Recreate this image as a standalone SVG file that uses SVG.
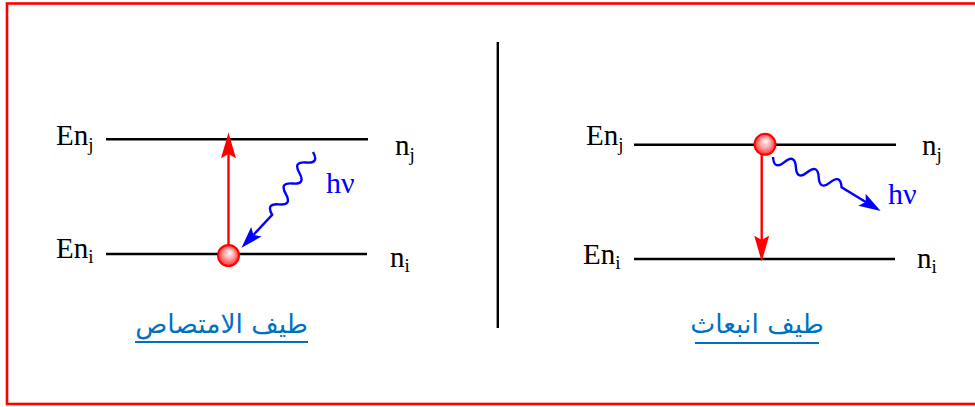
<svg xmlns="http://www.w3.org/2000/svg" width="975" height="407" viewBox="0 0 975 407">
<style>
.lvl{stroke:#000;stroke-width:2.6;fill:none}
.lab{font-family:"Liberation Serif","Times New Roman",serif;font-size:29px;fill:#000}
.sub{font-size:19px}
.hv{font-family:"Liberation Serif","Times New Roman",serif;font-size:30px;fill:#0000ff}
.ar{font-family:"DejaVu Sans",sans-serif;font-size:26.5px;fill:#0070c0}
.ul{stroke:#0070c0;stroke-width:2}
.red{stroke:#ff0000;stroke-width:2.4;fill:none}
.wave{stroke:#0000ff;stroke-width:2.4;fill:none}
.ball{fill:url(#bg);stroke:#ff0000;stroke-width:2}
</style>
<defs>
<radialGradient id="bg" cx="0.5" cy="0.5" r="0.5" fx="0.55" fy="0.35">
<stop offset="0" stop-color="#ffffff"/>
<stop offset="0.45" stop-color="#ffb0b0"/>
<stop offset="1" stop-color="#ff3030"/>
</radialGradient>
<marker id="ra" markerUnits="userSpaceOnUse" markerWidth="30" markerHeight="20" viewBox="0 -8 28 16" refX="4" refY="0" orient="auto">
<path d="M0,-7 L24,0 L0,7 L4,0 z" fill="#ff0000"/>
</marker>
<marker id="ba" markerUnits="userSpaceOnUse" markerWidth="24" markerHeight="16" viewBox="0 -7 22 14" refX="4" refY="0" orient="auto">
<path d="M0,-6.5 L20,0 L0,6.5 L4,0 z" fill="#0000ff"/>
</marker>
</defs>
<rect x="7" y="3.5" width="1000" height="400.5" fill="none" stroke="#ff0000" stroke-width="2.6"/>
<line x1="497.8" y1="42" x2="497.8" y2="328" stroke="#000" stroke-width="2.4"/>

<g id="absorption">
<line class="lvl" x1="106" y1="139.3" x2="368" y2="139.3"/>
<line class="lvl" x1="106" y1="254" x2="367" y2="254"/>
<text class="lab" x="56" y="145">En<tspan class="sub" dy="6">j</tspan></text>
<text class="lab" x="56" y="258">En<tspan class="sub" dy="5">i</tspan></text>
<text class="lab" x="395" y="155">n<tspan class="sub" dy="6">j</tspan></text>
<text class="lab" x="390" y="267">n<tspan class="sub" dy="5">i</tspan></text>
<text class="hv" x="326" y="193">hν</text>
<text class="ar" x="221.5" y="333" text-anchor="middle">طيف الامتصاص</text>
<line class="ul" x1="135" y1="342" x2="308" y2="342"/>
</g>

<g id="emission">
<line class="lvl" x1="634" y1="144.7" x2="896" y2="144.7"/>
<line class="lvl" x1="634" y1="259" x2="895" y2="259"/>
<text class="lab" x="586" y="145">En<tspan class="sub" dy="6">j</tspan></text>
<text class="lab" x="583" y="264">En<tspan class="sub" dy="5">i</tspan></text>
<text class="lab" x="922" y="155">n<tspan class="sub" dy="6">j</tspan></text>
<text class="lab" x="917" y="268">n<tspan class="sub" dy="5">i</tspan></text>
<text class="hv" x="888" y="204">hν</text>
<text class="ar" x="757" y="333" text-anchor="middle">طيف انبعاث</text>
<line class="ul" x1="695" y1="343" x2="819" y2="343"/>
</g>

<g id="connectors">
<line class="red" x1="228.5" y1="255" x2="228.5" y2="154" marker-end="url(#ra)"/>
<path class="wave" transform="translate(313,152) rotate(123)" d="M0,0 q6.25,-12 12.5,0 t12.5,0 t12.5,0 t12.5,0 t12.5,0 t12.5,0 L102,4.8" marker-end="url(#ba)"/>
<line class="red" x1="761.7" y1="155" x2="761.7" y2="240" marker-end="url(#ra)"/>
<path class="wave" transform="translate(773,157) rotate(23.9)" d="M0,0 q6.25,12 12.5,0 t12.5,0 t12.5,0 t12.5,0 t12.5,0 t12.5,0 L103,3.6" marker-end="url(#ba)"/>
</g>

<g id="ball-absorption"><circle class="ball" cx="228.5" cy="255.5" r="10.5"/></g>
<g id="ball-emission"><circle class="ball" cx="765" cy="144.3" r="10.5"/></g>
</svg>
